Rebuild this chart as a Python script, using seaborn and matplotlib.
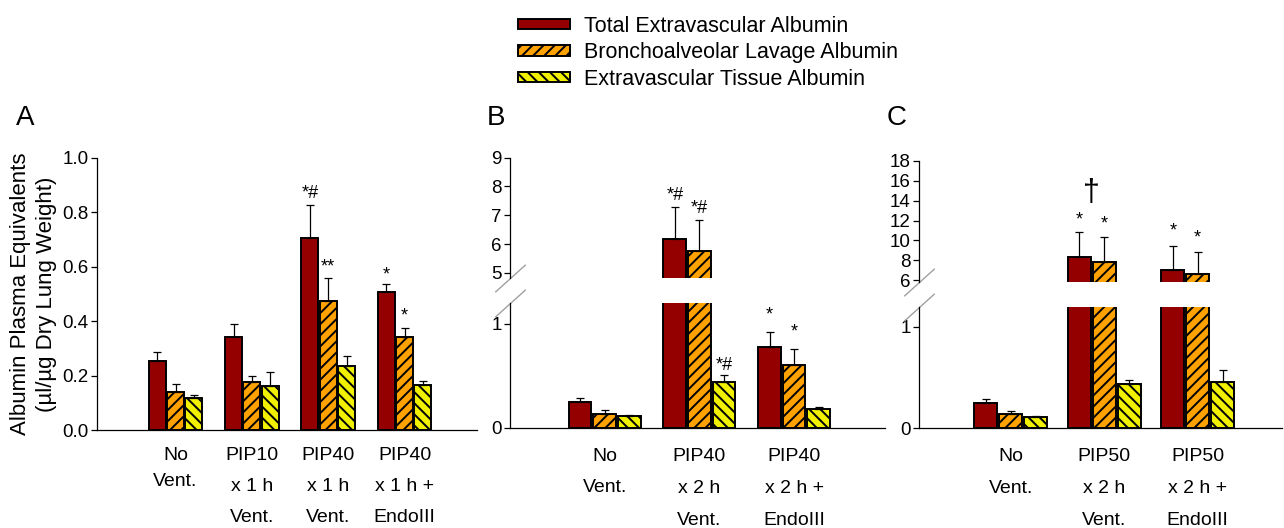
import numpy as np
import pandas as pd
import seaborn as sns
import matplotlib.pyplot as plt
from matplotlib.container import BarContainer

# series (hue levels) and their look
series = ['Total Extravascular Albumin', 'Bronchoalveolar Lavage Albumin',
          'Extravascular Tissue Albumin']
colors = ['#940000', '#ffa200', '#f0f000']
hatches = ['', '///', '\\\\\\']

# panel A
groups_a = ['No\nVent.', 'PIP10\nx 1 h\nVent.', 'PIP40\nx 1 h\nVent.', 'PIP40\nx 1 h +\nEndoIII']
total_a = [0.253, 0.341, 0.707, 0.506]
total_a_err = [0.035, 0.048, 0.12, 0.032]
balf_a = [0.138, 0.177, 0.475, 0.343]
balf_a_err = [0.030, 0.023, 0.084, 0.033]
tissue_a = [0.117, 0.163, 0.235, 0.165]
tissue_a_err = [0.012, 0.049, 0.038, 0.015]
# (group, series, text, lift in points)
annot_a = [(2, 0, '*#', 2), (2, 1, '**', 2), (3, 0, '*', 0), (3, 1, '*', 2)]

# panel B
groups_b = ['No\nVent.', 'PIP40\nx 2 h\nVent.', 'PIP40\nx 2 h +\nEndoIII']
total_b = [0.25, 6.17, 0.78]
total_b_err = [0.04, 1.13, 0.14]
balf_b = [0.135, 5.75, 0.60]
balf_b_err = [0.033, 1.08, 0.156]
tissue_b = [0.113, 0.44, 0.183]
tissue_b_err = [0.007, 0.07, 0.017]
annot_b = [(1, 0, '*#', 2), (1, 1, '*#', 2), (1, 2, '*#', 0.5), (2, 0, '*', 6), (2, 1, '*', 6)]

# panel C
groups_c = ['No\nVent.', 'PIP50\nx 2 h\nVent.', 'PIP50\nx 2 h +\nEndoIII']
total_c = [0.248, 8.35, 6.98]
total_c_err = [0.039, 2.52, 2.45]
balf_c = [0.139, 7.85, 6.58]
balf_c_err = [0.029, 2.52, 2.28]
tissue_c = [0.115, 0.435, 0.46]
tissue_c_err = [0.005, 0.04, 0.117]
annot_c = [(1, 0, '*', 2), (1, 1, '*', 3), (2, 0, '*', 4.5), (2, 1, '*', 4)]

sns.set_style('ticks')
plt.rcParams['font.family'] = ['Liberation Sans', 'DejaVu Sans']
plt.rcParams.update({'text.color': 'black', 'axes.labelcolor': 'black',
                     'xtick.color': 'black', 'ytick.color': 'black',
                     'axes.edgecolor': 'black', 'axes.linewidth': 0.9,
                     'hatch.linewidth': 1.4})


def bar_sets(ax):
    return [c for c in ax.containers if isinstance(c, BarContainer)]


def draw_bars(ax, groups, means, errs, width, xpad):
    rows = []
    for s, name in enumerate(series):
        for g, grp in enumerate(groups):
            rows.append({'group': grp, 'series': name, 'value': means[s][g]})
    df = pd.DataFrame(rows)
    sns.barplot(data=df, x='group', y='value', hue='series', order=groups,
                hue_order=series, palette=colors, saturation=1, width=width,
                gap=0.08, errorbar=None, edgecolor='black', linewidth=1.4,
                legend=False, ax=ax)
    for s, cont in enumerate(bar_sets(ax)):
        xs = []
        for bar in cont:
            bar.set_hatch(hatches[s])
            xs.append(bar.get_x() + bar.get_width() / 2)
        ax.errorbar(xs, means[s], yerr=[np.zeros(len(xs)), errs[s]], fmt='none',
                    ecolor='black', elinewidth=0.9, capsize=3, capthick=0.9)
    ax.set_xlabel('')
    ax.set_ylabel('')
    ax.tick_params(axis='y', direction='out', length=4, width=0.9, labelsize=13.5, pad=2)
    ax.tick_params(axis='x', length=0, labelsize=14, pad=xpad)
    for side in ['top', 'right']:
        ax.spines[side].set_visible(False)


def bar_x(ax, g, s):
    bar = bar_sets(ax)[s][g]
    return bar.get_x() + bar.get_width() / 2


def annotate(axes, means, errs, annots):
    for g, s, txt, lift in annots:
        top = means[s][g] + errs[s][g]
        ax = axes[0]
        if len(axes) > 1 and top > axes[0].get_ylim()[1]:
            ax = axes[1]
        ax.annotate(txt, (bar_x(ax, g, s), top), xytext=(0, lift),
                    textcoords='offset points', ha='center', va='bottom', fontsize=13)


def break_marks(ax_low, ax_up):
    kw = dict(marker=[(-1, -0.9), (1, 0.9)], markersize=22, linestyle='none',
              color='#a0a0a0', mec='#a0a0a0', mew=1, clip_on=False)
    ax_up.plot([0], [0], transform=ax_up.transAxes, **kw)
    ax_low.plot([0], [1], transform=ax_low.transAxes, **kw)


def label_spacing(ax, no_vent, others):
    for lab in ax.get_xticklabels():
        lab.set_linespacing(no_vent if lab.get_text().startswith('No') else others)


fig = plt.figure(figsize=(12.84, 5.28), dpi=100)

# ---- A
ax_a = fig.add_axes([0.0755, 0.1856, 0.296, 0.5152])
means_a = [total_a, balf_a, tissue_a]
errs_a = [total_a_err, balf_a_err, tissue_a_err]
draw_bars(ax_a, groups_a, means_a, errs_a, 0.72, 12)
ax_a.set_ylim(0, 1.0)
ax_a.set_yticks([0, 0.2, 0.4, 0.6, 0.8, 1.0])
ax_a.set_xlim(-1.03, 3.95)
annotate([ax_a], means_a, errs_a, annot_a)
ax_a.set_ylabel('Albumin Plasma Equivalents\n(\u00b5l/\u00b5g Dry Lung Weight)',
                fontsize=16, linespacing=1.35)
ax_a.yaxis.set_label_coords(-0.104, 0.5)
label_spacing(ax_a, 1.75, 2.1)

# ---- B (broken axis)
ax_b = fig.add_axes([0.3972, 0.19, 0.2921, 0.2361])
ax_b2 = fig.add_axes([0.3972, 0.4735, 0.2921, 0.2278])
means_b = [total_b, balf_b, tissue_b]
errs_b = [total_b_err, balf_b_err, tissue_b_err]
for ax in [ax_b, ax_b2]:
    draw_bars(ax, groups_b, means_b, errs_b, 0.78, 14.5)
    ax.set_xlim(-1.0, 2.96)
ax_b.set_ylim(0, 1.2)
ax_b.set_yticks([0, 1])
ax_b2.set_ylim(4.82, 9)
ax_b2.set_yticks([5, 6, 7, 8, 9])
ax_b2.spines['bottom'].set_visible(False)
ax_b2.tick_params(axis='x', labelbottom=False)
annotate([ax_b, ax_b2], means_b, errs_b, annot_b)
break_marks(ax_b, ax_b2)
label_spacing(ax_b, 2.1, 2.15)

# ---- C (broken axis)
ax_c = fig.add_axes([0.7157, 0.1888, 0.2827, 0.2303])
ax_c2 = fig.add_axes([0.7157, 0.4659, 0.2827, 0.2292])
means_c = [total_c, balf_c, tissue_c]
errs_c = [total_c_err, balf_c_err, tissue_c_err]
for ax in [ax_c, ax_c2]:
    draw_bars(ax, groups_c, means_c, errs_c, 0.8, 14.5)
    ax.set_xlim(-0.98, 2.9)
ax_c.set_ylim(0, 1.2)
ax_c.set_yticks([0, 1])
ax_c2.set_ylim(5.8, 18)
ax_c2.set_yticks([6, 8, 10, 12, 14, 16, 18])
ax_c2.spines['bottom'].set_visible(False)
ax_c2.tick_params(axis='x', labelbottom=False)
annotate([ax_c, ax_c2], means_c, errs_c, annot_c)
break_marks(ax_c, ax_c2)
label_spacing(ax_c, 2.1, 2.15)
dag_x = (bar_x(ax_c2, 1, 0) + bar_x(ax_c2, 1, 1)) / 2
ax_c2.annotate('\u2020', (dag_x, total_c[1] + total_c_err[1]), xytext=(0, 28),
               textcoords='offset points', ha='center', va='center', fontsize=22)

# panel letters
for letter, x in [('A', 0.0125), ('B', 0.379), ('C', 0.6905)]:
    fig.text(x, 0.763, letter, fontsize=20, ha='left', va='baseline')

fig.legend(handles=bar_sets(ax_a), labels=series, loc='upper left',
           bbox_to_anchor=(0.4034, 0.9705), frameon=False, fontsize=15.5,
           handlelength=2.42, handleheight=0.37, labelspacing=0.26,
           handletextpad=0.65, borderpad=0, borderaxespad=0)

fig.savefig('out.png', dpi=100)
